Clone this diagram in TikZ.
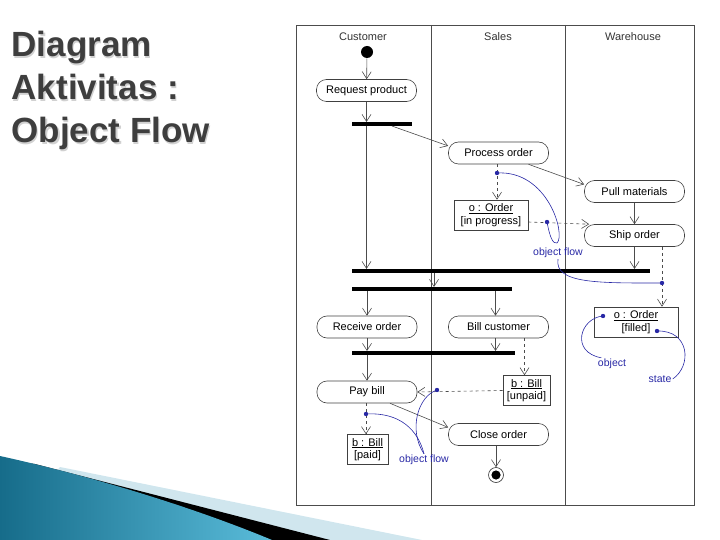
\documentclass[tikz,border=0pt]{standalone}
\usepackage{fontspec}
\setmainfont{Liberation Sans}
\usetikzlibrary{arrows.meta}

\definecolor{notecol}{RGB}{40,40,165}
\definecolor{titlecol}{RGB}{62,62,62}
\definecolor{tealdark}{RGB}{22,108,138}
\definecolor{teallight}{RGB}{90,188,218}
\definecolor{palecyan}{RGB}{208,230,238}

\begin{document}
\begin{tikzpicture}[x=1pt, y=-1pt, line width=0.6pt,
  flow/.style={draw=black!70, -{Straight Barb[length=7pt,width=9pt]}},
  objflow/.style={flow, dashed},
  action/.style={draw=black!75, rectangle, rounded corners=10pt, minimum width=100pt, minimum height=22pt, font=\fontsize{11}{12}\selectfont},
  objbox/.style={draw=black!75, rectangle, align=center, inner sep=2pt, minimum height=30pt, font=\fontsize{11}{12.5}\selectfont},
  bar/.style={fill=black, rectangle, inner sep=0pt, minimum height=3.5pt},
  lanehead/.style={font=\fontsize{11}{12}\selectfont, text=black!80},
  note/.style={text=notecol, font=\fontsize{10.5}{12}\selectfont, inner sep=1pt},
  notecurve/.style={draw=notecol, line width=0.6pt},
  notedot/.style={fill=notecol},
  titletext/.style={anchor=base west, font=\fontsize{35}{40}\selectfont\bfseries, text=titlecol},
  titleshadow/.style={titletext, text=black!18},
  endnode/.style={circle, draw=black!80, minimum size=15pt, inner sep=0pt, path picture={\fill[black] (path picture bounding box.center) circle[radius=4.6pt];}}
]
\useasboundingbox (0,0) rectangle (720,540);

\fill[palecyan] (60,467) -- (422,540) -- (0,540) -- cycle;
\fill[black] (35,464) -- (330,540) -- (0,540) -- (0,460) -- cycle;
\shade[left color=tealdark, right color=teallight] (0,456) .. controls (100,478) and (200,510) .. (272,540) -- (0,540) -- cycle;

\node[titleshadow] (t1s) at (9.2,58.2) {Diagram};
\node[titleshadow] (t2s) at (9.2,101.2) {Aktivitas :};
\node[titleshadow] (t3s) at (9.2,144.2) {Object Flow};
\node[titletext] (t1) at (8,57) {Diagram};
\node[titletext] (t2) at (8,100) {Aktivitas :};
\node[titletext] (t3) at (8,143) {Object Flow};

\draw[black!70] (296,25) rectangle (694,505);
\draw[black!70] (431,25) -- (431,505);
\draw[black!70] (565,25) -- (565,505);

\node[lanehead] (hcust) at (363,37) {Customer};
\node[lanehead] (hsales) at (498,37) {Sales};
\node[lanehead] (hware) at (633,37) {Warehouse};

\node[circle, fill=black, minimum size=12pt, inner sep=0pt] (start) at (367,52) {};
\node[action] (req) at (366.5,90.5) {Request product};
\node[bar, minimum width=60pt] (fork1) at (382,124) {};
\node[action] (proc) at (498.5,153) {Process order};
\node[action] (pull) at (634.5,191.5) {Pull materials};
\node[objbox, minimum width=74pt] (orderA) at (491,215) {\underline{o : Order}\\{}[in progress]};
\node[action] (ship) at (634.5,235.5) {Ship order};
\node[bar, minimum width=298pt] (join1) at (501,271) {};
\node[bar, minimum width=160pt] (fork2) at (432,289) {};
\node[objbox, minimum width=84pt] (orderB) at (636,322) {\underline{o : Order}\\{}[filled]};
\node[action] (recv) at (367,327) {Receive order};
\node[action] (bill) at (498.5,327) {Bill customer};
\node[bar, minimum width=163pt] (join2) at (433.5,353) {};
\node[objbox, minimum width=47pt] (billA) at (526.5,390.5) {\underline{b : Bill}\\{}[unpaid]};
\node[action] (pay) at (367,392) {Pay bill};
\node[action] (close) at (498.5,434.5) {Close order};
\node[objbox, minimum width=41pt] (billB) at (367.5,449.5) {\underline{b : Bill}\\{}[paid]};
\node[endnode] (final) at (496,475) {};

\coordinate (d1) at (497,173);
\coordinate (d2) at (547,222);
\coordinate (d3) at (662,283);
\coordinate (d4) at (603,316);
\coordinate (d5) at (657,331);
\coordinate (d6) at (437,390);
\coordinate (d7) at (366,414);

\draw[flow] (start) -- (req);
\draw[flow] (req) -- (req |- fork1.north);
\draw[flow] (req |- fork1.south) -- (req |- join1.north);
\draw[flow] ([xshift=10pt]fork1.south) -- (proc.172);
\draw[flow] ([xshift=30pt]proc.south) -- (pull.172);
\draw[objflow] (proc.south -| d1) -- (orderA.north -| d1);
\draw[objflow] (orderA.east |- d2) -- (ship.166);
\draw[flow] (pull) -- (ship);
\draw[flow] (ship) -- (ship |- join1.north);
\draw[objflow] (ship.south -| d3) -- (orderB.north -| d3);
\draw[flow] ([xshift=2pt]join1.south -| fork2) -- ([xshift=2pt]fork2.north);
\draw[flow] (recv |- fork2.south) -- (recv);
\draw[flow] ([xshift=-3pt]bill |- fork2.south) -- ([xshift=-3pt]bill.north);
\draw[flow] (recv) -- (recv |- join2.north);
\draw[flow] ([xshift=-3pt]bill.south) -- ([xshift=-3pt]bill.south |- join2.north);
\draw[flow] (pay |- join2.south) -- (pay);
\draw[objflow] ([xshift=-2pt]billA |- bill.south) -- ([xshift=-2pt]billA.north);
\draw[objflow] (billA.west) -- (pay.east);
\draw[flow] ([xshift=23pt]pay.south) -- (close.172);
\draw[objflow] (pay.south -| d7) -- (billB.north -| d7);
\draw[flow] (close.south -| final) -- (final);

\node[note] (lflowA) at (558,253) {object flow};
\node[note] (lobject) at (612,364) {object};
\node[note] (lstate) at (660,379) {state};
\node[note] (lflowB) at (424,460) {object flow};

\draw[notecurve] (d1) .. controls (548,170) and (566,235) .. (557,243);
\draw[notecurve] (d2) .. controls (550,238) and (553,244) .. (557,243);
\draw[notecurve] (lflowA.south) .. controls (554,284) and (600,283) .. (d3);
\draw[notecurve] (d4) .. controls (580,318) and (570,352) .. (lobject.150);
\draw[notecurve] (d5) .. controls (690,330) and (692,366) .. (lstate.east);
\draw[notecurve] (d6) .. controls (418,396) and (408,430) .. (lflowB.north);
\draw[notecurve] (d7) .. controls (400,412) and (418,430) .. (lflowB.north);

\foreach \d in {d1,d2,d3,d4,d5,d6,d7}
  \fill[notedot] (\d) circle[radius=2.2pt];
\end{tikzpicture}
\end{document}
